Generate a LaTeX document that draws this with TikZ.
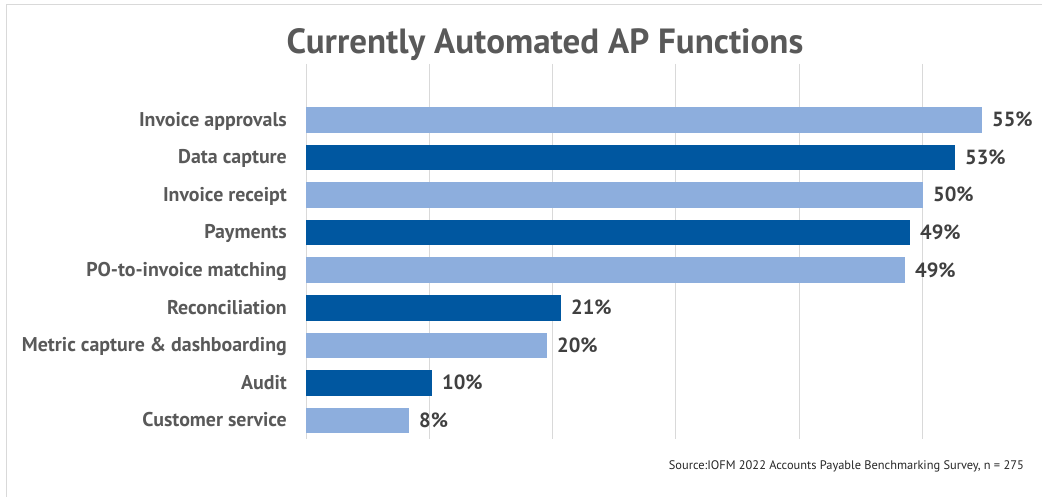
\documentclass[tikz,border=0pt]{standalone}
\usepackage{fontspec}
\setmainfont{PT Sans}
\definecolor{lightbar}{HTML}{8DAEDD}
\definecolor{darkbar}{HTML}{0057A0}
\definecolor{gridgrey}{HTML}{D9D9D9}
\definecolor{labelgrey}{HTML}{595959}
\definecolor{valgrey}{HTML}{404040}
\begin{document}
\begin{tikzpicture}[x=1pt,y=-1pt,
  cat label/.style={anchor=base east,inner sep=0pt,text=labelgrey,font=\bfseries\fontsize{19.9}{20}\selectfont},
  val label/.style={anchor=base west,inner sep=0pt,text=valgrey,font=\bfseries\fontsize{20.5}{21}\selectfont},
  light bar/.style={fill=lightbar},
  dark bar/.style={fill=darkbar}]
  \useasboundingbox (0,0) rectangle (1042,497);
  % frame and grid
  \draw[gridgrey] (6,497) -- (6,4) -- (1042,4);
  \foreach \g in {0,...,5}
    \draw[gridgrey] (306+123.2*\g,64) -- (306+123.2*\g,439);

  \node[anchor=base,inner sep=0pt,text=labelgrey,font=\bfseries\fontsize{35}{35}\selectfont] (title) at (545,54) {Currently Automated AP Functions};

  % bars
  \fill[light bar] (306,107.5) rectangle (982,133);
  \fill[dark bar] (306,145) rectangle (955,170.5);
  \fill[light bar] (306,182.5) rectangle (923,208);
  \fill[dark bar] (306,220) rectangle (910,245.5);
  \fill[light bar] (306,257.5) rectangle (905,283);
  \fill[dark bar] (306,295) rectangle (561,320.5);
  \fill[light bar] (306,332.5) rectangle (547,358);
  \fill[dark bar] (306,370) rectangle (432,395.5);
  \fill[light bar] (306,407.5) rectangle (409,433);

  % categories
  \node[cat label] (approvals) at (287,126.5) {Invoice approvals};
  \node[cat label] (capture) at (287,164) {Data capture};
  \node[cat label] (receipt) at (287,201.5) {Invoice receipt};
  \node[cat label] (payments) at (287,239) {Payments};
  \node[cat label] (matching) at (287,276.5) {PO-to-invoice matching};
  \node[cat label] (reconcile) at (287,314) {Reconciliation};
  \node[cat label] (metric) at (287,351.5) {Metric capture \& dashboarding};
  \node[cat label] (audit) at (287,389) {Audit};
  \node[cat label] (service) at (287,426.5) {Customer service};

  % values
  \node[val label] (v1) at (992,127) {55\%};
  \node[val label] (v2) at (965,164.5) {53\%};
  \node[val label] (v3) at (933,202) {50\%};
  \node[val label] (v4) at (920,239.5) {49\%};
  \node[val label] (v5) at (915,277) {49\%};
  \node[val label] (v6) at (571,314.5) {21\%};
  \node[val label] (v7) at (557,352) {20\%};
  \node[val label] (v8) at (442,389.5) {10\%};
  \node[val label] (v9) at (419,427) {8\%};

  \node[anchor=base east,inner sep=0pt,text=black!85,font=\fontsize{12.4}{12.4}\selectfont] (source) at (1024,469.5) {Source:IOFM 2022 Accounts Payable Benchmarking Survey, n = 275};
\end{tikzpicture}
\end{document}
